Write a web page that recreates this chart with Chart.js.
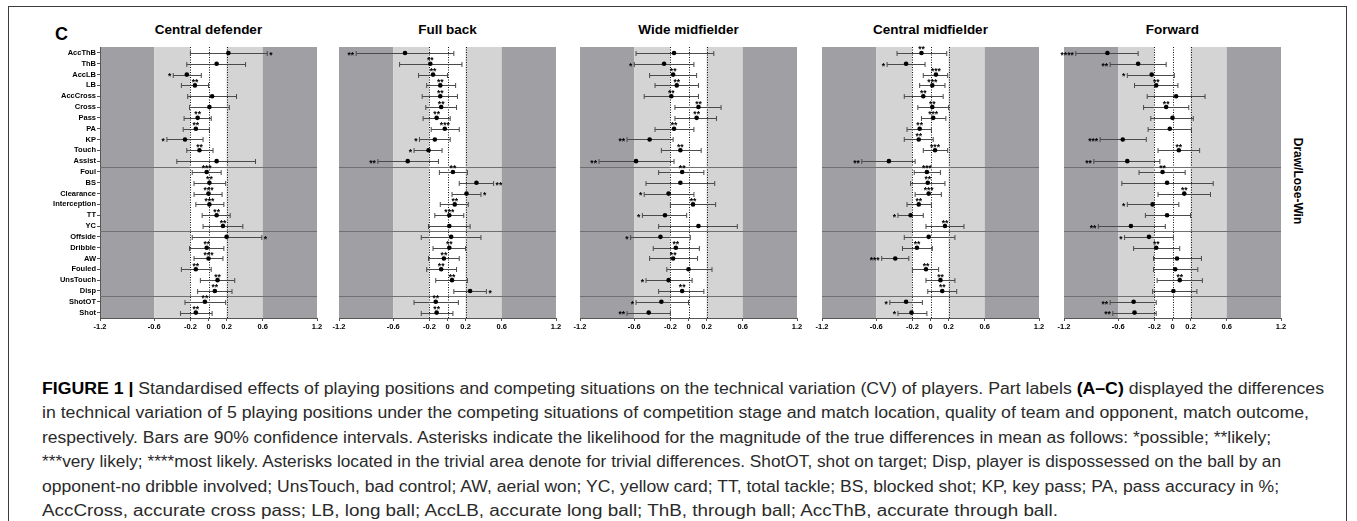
<!DOCTYPE html>
<html>
<head>
<meta charset="utf-8">
<script src="https://cdn.jsdelivr.net/npm/chart.js@4.4.0/dist/chart.umd.min.js"></script>
<style>
  body { margin: 0; background: #fff; width: 1357px; height: 521px; overflow: hidden; position: relative; font-family: 'Liberation Sans', Arial, sans-serif; }
  #frame { position: absolute; left: 8px; top: 6px; width: 1339px; height: 600px; border: 1.5px solid #3c3c3c; box-sizing: border-box; }
  canvas { position: absolute; top: 0; }
  .title { position: absolute; top: 23px; width: 217px; text-align: center; font-weight: bold; font-size: 13.5px; line-height: 14px; color: #000; }
  #partLabel { position: absolute; left: 55px; top: 25px; font-weight: bold; font-size: 18px; line-height: 18px; }
  #sideLabel { position: absolute; left: 1298px; top: 181px; transform: translate(-50%, -50%) rotate(90deg); font-weight: bold; font-size: 12px; white-space: nowrap; }
  .cap { position: absolute; left: 42px; white-space: nowrap; font-size: 16px; line-height: 20px; color: #2a2a2a; transform-origin: left center; }
  .cap b { color: #000; }
</style>
</head>
<body>
<div id="frame"></div>
<div id="partLabel">C</div>
<div id="sideLabel">Draw/Lose-Win</div>
<div id="titles"></div>
<div id="caption"></div>

<script>
// rows, top to bottom
const rows = ['AccThB', 'ThB', 'AccLB', 'LB', 'AccCross', 'Cross', 'Pass', 'PA', 'KP', 'Touch', 'Assist',
  'Foul', 'BS', 'Clearance', 'Interception', 'TT', 'YC',
  'Offside', 'Dribble', 'AW', 'Fouled', 'UnsTouch', 'Disp',
  'ShotOT', 'Shot'];
const xTicks = [-1.2, -0.6, -0.2, 0, 0.2, 0.6, 1.2];
const bandEdges = [-1.2, -0.6, -0.2, 0.2, 0.6, 1.2];
const refLines = [-0.2, 0, 0.2];
const groupBreaks = [10.5, 16.5, 22.5];
const positions = ['Central defender', 'Full back', 'Wide midfielder', 'Central midfielder', 'Forward'];

// Central defender
const cdMean = [0.22, 0.09, -0.24, -0.15, 0.04, 0.01, -0.12, -0.14, -0.26, -0.10, 0.09, -0.02, 0.01, 0.00, 0.01, 0.09, 0.16, 0.20, -0.02, 0.00, -0.14, 0.10, 0.07, -0.04, -0.14];
const cdLow = [-0.20, -0.24, -0.39, -0.30, -0.23, -0.21, -0.27, -0.28, -0.46, -0.24, -0.35, -0.18, -0.16, -0.16, -0.14, -0.07, -0.06, -0.18, -0.21, -0.16, -0.30, -0.09, -0.12, -0.26, -0.31];
const cdHigh = [0.65, 0.41, -0.08, 0.00, 0.31, 0.23, 0.03, 0.01, -0.06, 0.05, 0.52, 0.14, 0.19, 0.15, 0.17, 0.24, 0.38, 0.59, 0.17, 0.16, 0.03, 0.29, 0.26, 0.19, 0.04];
const cdStars = ['*', '', '*', '**', '', '', '**', '**', '*', '**', '', '***', '**', '***', '***', '**', '**', '*', '**', '***', '**', '**', '**', '**', '**'];
const cdTrivial = [0, 0, 0, 1, 0, 0, 1, 1, 0, 1, 0, 1, 1, 1, 1, 1, 1, 0, 1, 1, 1, 1, 1, 1, 1];

// Full back
const fbMean = [-0.47, -0.19, -0.16, -0.08, -0.08, -0.07, -0.12, -0.03, -0.14, -0.21, -0.44, 0.06, 0.32, 0.21, 0.08, 0.02, 0.02, 0.04, 0.02, -0.04, -0.07, 0.05, 0.25, -0.13, -0.12];
const fbLow = [-1.01, -0.53, -0.32, -0.23, -0.28, -0.24, -0.27, -0.18, -0.31, -0.37, -0.77, -0.09, 0.13, 0.05, -0.08, -0.14, -0.21, -0.29, -0.16, -0.21, -0.23, -0.13, 0.07, -0.37, -0.29];
const fbHigh = [0.07, 0.16, 0.00, 0.09, 0.11, 0.10, 0.03, 0.13, 0.03, -0.06, -0.10, 0.22, 0.51, 0.37, 0.23, 0.18, 0.25, 0.37, 0.20, 0.13, 0.10, 0.22, 0.43, 0.12, 0.06];
const fbStars = ['**', '**', '**', '**', '**', '**', '**', '***', '*', '*', '**', '**', '**', '*', '**', '***', '', '', '**', '**', '**', '**', '*', '**', '**'];
const fbTrivial = [0, 1, 1, 1, 1, 1, 1, 1, 0, 0, 0, 1, 0, 0, 1, 1, 0, 0, 1, 1, 1, 1, 0, 1, 1];

// Wide midfielder
const wmMean = [-0.16, -0.27, -0.17, -0.13, -0.19, 0.11, 0.09, -0.16, -0.43, -0.09, -0.58, -0.07, -0.09, -0.22, 0.05, -0.26, 0.11, -0.31, -0.14, -0.17, 0.00, -0.22, -0.07, -0.30, -0.44];
const wmLow = [-0.58, -0.60, -0.43, -0.37, -0.49, -0.15, -0.15, -0.37, -0.68, -0.30, -0.99, -0.33, -0.47, -0.49, -0.20, -0.51, -0.33, -0.64, -0.39, -0.43, -0.24, -0.47, -0.33, -0.58, -0.68];
const wmHigh = [0.28, 0.06, 0.09, 0.11, 0.11, 0.36, 0.31, 0.06, -0.17, 0.14, -0.16, 0.17, 0.29, 0.06, 0.30, -0.02, 0.54, 0.02, 0.12, 0.10, 0.26, 0.04, 0.17, 0.00, -0.20];
const wmStars = ['', '*', '**', '**', '**', '**', '**', '**', '**', '**', '**', '**', '', '*', '**', '*', '', '*', '**', '**', '', '*', '**', '*', '**'];
const wmTrivial = [0, 0, 1, 1, 1, 1, 1, 1, 0, 1, 0, 1, 0, 0, 1, 0, 0, 0, 1, 1, 0, 0, 1, 0, 0];

// Central midfielder
const cmMean = [-0.10, -0.27, 0.06, 0.02, -0.08, 0.02, 0.03, -0.12, -0.13, 0.05, -0.46, -0.04, -0.03, -0.02, -0.13, -0.22, 0.16, -0.02, -0.15, -0.39, -0.05, 0.11, 0.13, -0.27, -0.21];
const cmLow = [-0.37, -0.48, -0.08, -0.12, -0.29, -0.14, -0.10, -0.26, -0.29, -0.08, -0.76, -0.18, -0.22, -0.17, -0.26, -0.36, -0.05, -0.29, -0.31, -0.54, -0.20, -0.05, -0.03, -0.45, -0.36];
const cmHigh = [0.18, -0.06, 0.19, 0.16, 0.14, 0.20, 0.17, 0.01, 0.03, 0.19, -0.17, 0.11, 0.16, 0.12, 0.01, -0.08, 0.37, 0.27, 0.02, -0.24, 0.09, 0.27, 0.29, -0.09, -0.04];
const cmStars = ['**', '*', '***', '***', '**', '**', '***', '**', '**', '***', '**', '***', '**', '***', '**', '*', '**', '', '**', '***', '**', '**', '**', '*', '*'];
const cmTrivial = [1, 0, 1, 1, 1, 1, 1, 1, 1, 1, 0, 1, 1, 1, 1, 0, 1, 0, 1, 0, 1, 1, 1, 0, 0];

// Forward
const fwMean = [-0.72, -0.38, -0.23, -0.18, 0.04, -0.07, 0.00, -0.03, -0.55, 0.07, -0.50, -0.11, -0.06, 0.13, -0.22, -0.06, -0.46, -0.26, -0.18, 0.05, 0.03, 0.08, 0.01, -0.43, -0.42];
const fwLow = [-1.07, -0.69, -0.50, -0.42, -0.28, -0.32, -0.24, -0.27, -0.80, -0.16, -0.87, -0.37, -0.56, -0.16, -0.50, -0.30, -0.82, -0.53, -0.43, -0.21, -0.21, -0.17, -0.22, -0.69, -0.66];
const fwHigh = [-0.38, -0.07, 0.02, 0.06, 0.36, 0.18, 0.23, 0.21, -0.29, 0.30, -0.14, 0.14, 0.45, 0.42, 0.07, 0.20, -0.08, 0.01, 0.08, 0.32, 0.28, 0.33, 0.27, -0.18, -0.18];
const fwStars = ['****', '**', '*', '**', '', '**', '', '', '***', '**', '**', '**', '', '**', '*', '', '**', '*', '**', '', '', '**', '', '**', '**'];
const fwTrivial = [0, 0, 0, 1, 0, 1, 0, 0, 0, 1, 0, 1, 0, 1, 0, 0, 0, 0, 1, 0, 0, 1, 0, 0, 0];

const panels = [
  { mean: cdMean, low: cdLow, high: cdHigh, stars: cdStars, trivial: cdTrivial },
  { mean: fbMean, low: fbLow, high: fbHigh, stars: fbStars, trivial: fbTrivial },
  { mean: wmMean, low: wmLow, high: wmHigh, stars: wmStars, trivial: wmTrivial },
  { mean: cmMean, low: cmLow, high: cmHigh, stars: cmStars, trivial: cmTrivial },
  { mean: fwMean, low: fwLow, high: fwHigh, stars: fwStars, trivial: fwTrivial }
];

const captionLines = [
  '<b>FIGURE 1 |</b> Standardised effects of playing positions and competing situations on the technical variation (CV) of players. Part labels <b>(A–C)</b> displayed the differences',
  'in technical variation of 5 playing positions under the competing situations of competition stage and match location, quality of team and opponent, match outcome,',
  'respectively. Bars are 90% confidence intervals. Asterisks indicate the likelihood for the magnitude of the true differences in mean as follows: *possible; **likely;',
  '***very likely; ****most likely. Asterisks located in the trivial area denote for trivial differences. ShotOT, shot on target; Disp, player is dispossessed on the ball by an',
  'opponent-no dribble involved; UnsTouch, bad control; AW, aerial won; YC, yellow card; TT, total tackle; BS, blocked shot; KP, key pass; PA, pass accuracy in %;',
  'AccCross, accurate cross pass; LB, long ball; AccLB, accurate long ball; ThB, through ball; AccThB, accurate through ball.'
];

// layout
const plotLeft = [100, 339, 580, 822, 1064];
const plotWidth = 217;
const canvasH = 340;
const FONT = "'Liberation Sans', Arial, sans-serif";
const DARK = '#a09fa4';
const LIGHT = '#d4d4d4';

function makePanel(i) {
  const p = panels[i];
  const padLeft = i === 0 ? 0 : 10;
  const yW = i === 0 ? 100 : 0;
  const canvas = document.createElement('canvas');
  canvas.width = (i === 0 ? 100 : 10) + plotWidth + 12;
  canvas.height = canvasH;
  canvas.style.left = (i === 0 ? 0 : plotLeft[i] - 10) + 'px';
  document.body.appendChild(canvas);

  const title = document.createElement('div');
  title.className = 'title';
  title.style.left = plotLeft[i] + 'px';
  title.textContent = positions[i];
  document.getElementById('titles').appendChild(title);

  const forest = {
    id: 'forest' + i,
    beforeDraw(chart) {
      const { ctx, chartArea: a, scales: { x } } = chart;
      ctx.save();
      for (let k = 0; k < bandEdges.length - 1; k++) {
        const x0 = x.getPixelForValue(bandEdges[k]);
        const x1 = x.getPixelForValue(bandEdges[k + 1]);
        const edge = Math.abs(bandEdges[k]) >= 0.6 && Math.abs(bandEdges[k + 1]) >= 0.6;
        const mid = bandEdges[k] === -0.2;
        ctx.fillStyle = edge ? DARK : (mid ? '#ffffff' : LIGHT);
        ctx.fillRect(x0, a.top, x1 - x0, a.bottom - a.top);
      }
      ctx.restore();
    },
    beforeDatasetsDraw(chart) {
      const { ctx, chartArea: a, scales: { x, y } } = chart;
      ctx.save();
      // dotted reference lines
      ctx.strokeStyle = '#111';
      ctx.lineWidth = 1;
      ctx.setLineDash([1, 1.5]);
      refLines.forEach(v => {
        const px = Math.round(x.getPixelForValue(v)) + 0.5;
        ctx.beginPath();
        ctx.moveTo(px, a.top);
        ctx.lineTo(px, a.bottom);
        ctx.stroke();
      });
      ctx.setLineDash([]);
      // group separators
      ctx.strokeStyle = '#707070';
      groupBreaks.forEach(v => {
        const py = Math.round(y.getPixelForValue(v)) + 0.5;
        ctx.beginPath();
        ctx.moveTo(a.left, py);
        ctx.lineTo(a.right, py);
        ctx.stroke();
      });
      // confidence intervals
      ctx.strokeStyle = '#4a4a4a';
      ctx.lineWidth = 1;
      rows.forEach((_, r) => {
        const py = Math.round(y.getPixelForValue(r)) + 0.5;
        const x0 = x.getPixelForValue(p.low[r]);
        const x1 = x.getPixelForValue(p.high[r]);
        ctx.beginPath();
        ctx.moveTo(x0, py);
        ctx.lineTo(x1, py);
        ctx.moveTo(x0, py - 2.5);
        ctx.lineTo(x0, py + 2.5);
        ctx.moveTo(x1, py - 2.5);
        ctx.lineTo(x1, py + 2.5);
        ctx.stroke();
      });
      ctx.restore();
    },
    afterDatasetsDraw(chart) {
      const { ctx, scales: { x, y } } = chart;
      ctx.save();
      ctx.fillStyle = '#000';
      ctx.font = 'bold 8.5px ' + FONT;
      ctx.textBaseline = 'alphabetic';
      rows.forEach((_, r) => {
        const s = p.stars[r];
        if (!s) return;
        const py = y.getPixelForValue(r);
        if (p.trivial[r]) {
          // asterisks in the trivial area sit just above the point
          ctx.textAlign = 'center';
          ctx.fillText(s, x.getPixelForValue(p.mean[r]), py - 0.5);
        } else if (p.mean[r] < 0) {
          ctx.textAlign = 'right';
          ctx.fillText(s, x.getPixelForValue(p.low[r]) - 2, py + 4.8);
        } else {
          ctx.textAlign = 'left';
          ctx.fillText(s, x.getPixelForValue(p.high[r]) + 2, py + 4.8);
        }
      });
      ctx.restore();
    }
  };

  new Chart(canvas, {
    type: 'scatter',
    data: {
      datasets: [{
        data: p.mean.map((m, r) => ({ x: m, y: r })),
        pointRadius: 2.3,
        pointHoverRadius: 2.3,
        pointBackgroundColor: '#000',
        pointBorderWidth: 0
      }]
    },
    options: {
      responsive: false,
      animation: false,
      events: [],
      layout: { padding: { top: 47, right: 12, bottom: 0, left: padLeft } },
      plugins: { legend: { display: false }, tooltip: { enabled: false } },
      scales: {
        x: {
          type: 'linear',
          min: -1.2,
          max: 1.2,
          afterBuildTicks: s => { s.ticks = xTicks.map(v => ({ value: v })); },
          afterFit: s => { s.height = canvasH - 318; },
          ticks: {
            autoSkip: false,
            maxRotation: 0,
            padding: 1,
            color: '#000',
            font: { family: FONT, size: 7.5, weight: 'bold' },
            callback: v => String(v)
          },
          grid: { drawOnChartArea: false, drawTicks: true, tickLength: 3, color: '#555' },
          border: { color: '#555' }
        },
        y: {
          type: 'linear',
          reverse: true,
          min: -0.55,
          max: 24.5,
          display: i === 0,
          afterBuildTicks: s => { s.ticks = rows.map((_, r) => ({ value: r })); },
          afterFit: s => { s.width = yW; },
          ticks: {
            autoSkip: false,
            padding: 1,
            color: '#000',
            font: { family: FONT, size: 7.5, weight: 'bold' },
            callback: v => rows[v]
          },
          grid: { drawOnChartArea: false, drawTicks: true, tickLength: 3, color: '#555' },
          border: { color: '#555' }
        }
      }
    },
    plugins: [forest]
  });
}

panels.forEach((_, i) => makePanel(i));

// caption
const capTop = [389, 413.4, 437.8, 462.2, 486.6, 511];
const capRight = [1324, 1309, 1271, 1281, 1279, 1058];
const capBox = document.getElementById('caption');
captionLines.forEach((html, k) => {
  const d = document.createElement('div');
  d.className = 'cap';
  d.innerHTML = html;
  d.style.top = (capTop[k] - 10) + 'px';
  capBox.appendChild(d);
  const natural = d.getBoundingClientRect().width;
  const sc = (capRight[k] - 42) / natural;
  d.style.transform = 'scaleX(' + sc.toFixed(4) + ')';
});
</script>
</body>
</html>
